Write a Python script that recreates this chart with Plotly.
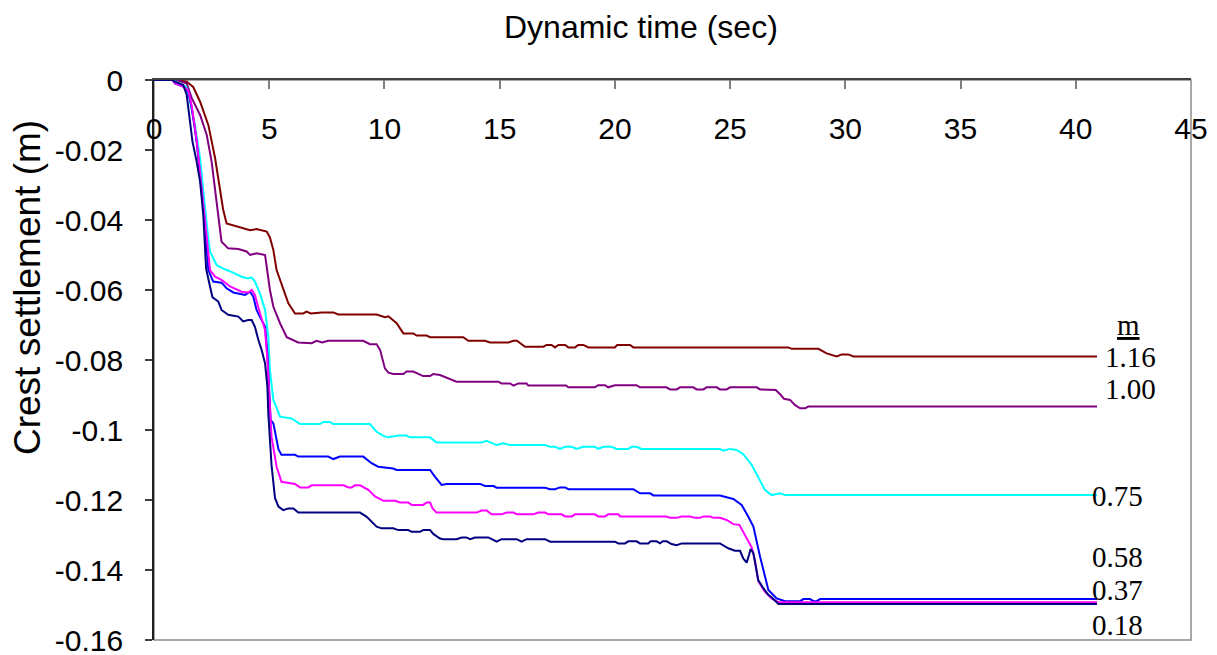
import plotly.graph_objects as go

# ---------------- data ----------------
t_116 = [0, 1.0, 1.42, 1.7, 2.0, 2.36, 2.65, 2.86, 3.0, 3.15, 3.59, 4.17, 4.45, 4.89, 5.03, 5.18, 5.32, 5.61, 5.83, 6.12, 6.48, 6.62, 6.8, 7.28, 7.78, 8.0, 9.66, 10.02, 10.17, 10.53, 10.82, 11.25, 11.4, 11.83, 11.98, 13.42, 13.64, 14.36, 14.58, 15.38, 15.6, 15.75, 16.1, 16.9, 17.04, 17.25, 17.4, 17.55, 17.84, 17.98, 18.27, 18.41, 18.63, 18.85, 20.0, 20.1, 20.66, 20.8, 27.53, 27.67, 28.83, 29.19, 29.48, 29.63, 29.84, 30.13, 30.35, 40.92]
s_116 = [0, 0, -0.0005, -0.002, -0.0062, -0.0129, -0.0223, -0.0319, -0.037, -0.041, -0.0419, -0.0429, -0.0426, -0.0433, -0.045, -0.0486, -0.0543, -0.060, -0.0638, -0.0667, -0.0667, -0.0662, -0.0667, -0.0664, -0.0664, -0.067, -0.067, -0.0678, -0.0675, -0.0695, -0.0724, -0.0724, -0.073, -0.073, -0.0735, -0.0735, -0.0745, -0.0745, -0.075, -0.075, -0.0745, -0.0745, -0.0762, -0.0762, -0.0757, -0.0757, -0.0764, -0.0757, -0.0757, -0.0764, -0.0764, -0.0757, -0.0757, -0.0764, -0.0764, -0.0757, -0.0757, -0.0764, -0.0764, -0.0768, -0.0768, -0.0781, -0.0786, -0.079, -0.0784, -0.0784, -0.079, -0.079]

t_100 = [0, 1.0, 1.42, 1.64, 2.0, 2.29, 2.5, 2.65, 2.79, 2.93, 3.22, 3.66, 4.02, 4.17, 4.45, 4.82, 4.89, 5.03, 5.18, 5.47, 5.76, 6.04, 6.26, 6.84, 7.05, 7.3, 7.56, 9.08, 9.37, 9.66, 9.81, 10.02, 10.17, 10.38, 10.82, 10.96, 11.25, 11.68, 11.98, 12.12, 12.41, 13.13, 14.94, 15.08, 15.45, 15.6, 15.81, 16.17, 16.24, 17.88, 17.98, 19.13, 19.28, 19.57, 19.71, 20.0, 20.94, 21.09, 22.23, 22.4, 22.68, 22.83, 23.4, 23.55, 23.84, 23.98, 24.42, 24.56, 24.85, 25.0, 26.15, 26.3, 26.98, 27.2, 27.34, 27.6, 27.82, 28.04, 28.26, 28.39, 40.92]
s_100 = [0, 0, -0.001, -0.0052, -0.01, -0.0157, -0.0233, -0.031, -0.0386, -0.0462, -0.0481, -0.0483, -0.049, -0.05, -0.0495, -0.05, -0.0533, -0.06, -0.0648, -0.0695, -0.0735, -0.0743, -0.075, -0.0752, -0.0745, -0.075, -0.0745, -0.0745, -0.0755, -0.0755, -0.0771, -0.0824, -0.0836, -0.084, -0.084, -0.0833, -0.0833, -0.0846, -0.0846, -0.084, -0.0843, -0.0862, -0.0862, -0.0867, -0.0867, -0.0873, -0.0867, -0.0867, -0.0873, -0.0873, -0.0878, -0.0878, -0.0872, -0.0872, -0.0878, -0.0872, -0.0872, -0.0878, -0.0878, -0.0884, -0.0884, -0.0878, -0.0878, -0.0884, -0.0884, -0.0878, -0.0878, -0.0884, -0.0884, -0.0878, -0.0878, -0.0884, -0.0886, -0.09, -0.0911, -0.0914, -0.0929, -0.0938, -0.0938, -0.0933, -0.0933]

t_075 = [0, 0.8, 1.1, 1.4, 1.56, 1.78, 2.0, 2.14, 2.29, 2.43, 2.72, 3.15, 3.36, 3.8, 4.09, 4.24, 4.38, 4.6, 4.82, 4.96, 5.03, 5.18, 5.47, 5.97, 6.34, 7.2, 7.35, 7.64, 7.78, 9.37, 9.66, 9.95, 10.17, 10.6, 10.95, 11.11, 11.98, 12.26, 14.21, 14.43, 14.87, 15.16, 15.45, 16.97, 17.19, 17.4, 17.62, 17.84, 18.13, 18.34, 18.63, 19.13, 19.28, 19.5, 19.86, 20.07, 20.58, 20.73, 20.94, 21.16, 24.56, 24.71, 25.0, 25.28, 25.57, 25.94, 26.22, 26.51, 26.8, 27.17, 27.39, 40.92]
s_075 = [0, 0, -0.001, -0.002, -0.0062, -0.0129, -0.0224, -0.0319, -0.0414, -0.049, -0.0529, -0.0543, -0.0548, -0.0562, -0.0567, -0.0564, -0.0576, -0.061, -0.0657, -0.0733, -0.0829, -0.0914, -0.0962, -0.0967, -0.0983, -0.0983, -0.0977, -0.0977, -0.0983, -0.0983, -0.1005, -0.1017, -0.1021, -0.1016, -0.1016, -0.1021, -0.1021, -0.1036, -0.1036, -0.1031, -0.1043, -0.1038, -0.1043, -0.1043, -0.1048, -0.1048, -0.1054, -0.1048, -0.1048, -0.1054, -0.1048, -0.1048, -0.1054, -0.1048, -0.1048, -0.1054, -0.1054, -0.1048, -0.1048, -0.1054, -0.1054, -0.1059, -0.1054, -0.1057, -0.1069, -0.11, -0.1133, -0.1171, -0.1186, -0.1181, -0.1186, -0.1186]

t_058 = [0, 0.8, 0.91, 1.27, 1.49, 1.64, 1.85, 2.0, 2.14, 2.26, 2.36, 2.57, 2.93, 3.15, 3.44, 3.95, 4.17, 4.31, 4.45, 4.67, 4.82, 4.92, 5.0, 5.06, 5.18, 5.4, 5.53, 6.12, 6.26, 7.56, 7.78, 8.07, 9.08, 9.44, 9.73, 10.38, 10.53, 11.98, 12.19, 12.48, 12.69, 14.15, 14.36, 14.73, 14.87, 16.97, 17.19, 17.4, 17.62, 17.84, 17.98, 20.8, 21.09, 21.53, 21.67, 24.56, 25.14, 25.5, 25.79, 26.01, 26.3, 26.66, 27.02, 27.39, 28.04, 28.18, 28.47, 28.62, 28.76, 28.9, 40.92]
s_058 = [0, 0, -0.001, -0.0019, -0.0033, -0.0081, -0.0176, -0.0271, -0.0367, -0.0462, -0.0543, -0.0576, -0.0579, -0.0595, -0.0607, -0.0614, -0.0605, -0.0619, -0.0657, -0.0686, -0.0705, -0.0781, -0.0876, -0.0971, -0.0981, -0.1055, -0.1071, -0.1071, -0.1076, -0.1076, -0.1083, -0.1076, -0.1076, -0.1095, -0.1105, -0.111, -0.1114, -0.1114, -0.1133, -0.1157, -0.1154, -0.1154, -0.116, -0.116, -0.1165, -0.1165, -0.1169, -0.1169, -0.1164, -0.1164, -0.1169, -0.1169, -0.1181, -0.1181, -0.1187, -0.1187, -0.1197, -0.1214, -0.1248, -0.1276, -0.1362, -0.1457, -0.1481, -0.1489, -0.1489, -0.1483, -0.1483, -0.1489, -0.1489, -0.1483, -0.1483]

t_037 = [0, 0.8, 0.91, 1.27, 1.49, 1.64, 1.85, 2.0, 2.14, 2.29, 2.43, 2.65, 2.93, 3.3, 3.8, 4.09, 4.24, 4.38, 4.6, 4.82, 4.92, 5.0, 5.1, 5.32, 5.53, 6.12, 6.34, 6.69, 6.84, 8.22, 8.44, 8.58, 8.72, 8.94, 9.3, 9.59, 9.95, 10.46, 10.68, 11.03, 11.18, 11.68, 11.83, 11.98, 12.09, 12.26, 14.0, 14.21, 14.43, 14.65, 15.08, 15.3, 15.6, 15.74, 16.46, 16.68, 16.97, 17.11, 17.69, 17.84, 18.13, 18.27, 19.13, 19.28, 19.57, 19.71, 20.15, 20.23, 22.23, 22.4, 22.68, 22.9, 23.26, 23.48, 23.7, 23.84, 24.13, 24.28, 24.56, 24.85, 25.14, 25.4, 25.57, 25.79, 25.94, 26.08, 26.22, 26.51, 26.8, 27.1, 40.92]
s_037 = [0, 0, -0.001, -0.0019, -0.003, -0.0075, -0.017, -0.026, -0.035, -0.045, -0.0543, -0.0562, -0.0571, -0.059, -0.0605, -0.0607, -0.06, -0.0614, -0.0667, -0.0714, -0.08, -0.0895, -0.1019, -0.1105, -0.1148, -0.1154, -0.1164, -0.1164, -0.1158, -0.1158, -0.1164, -0.1164, -0.1158, -0.1158, -0.1171, -0.119, -0.1202, -0.1202, -0.1207, -0.1207, -0.1214, -0.1214, -0.1207, -0.1207, -0.1224, -0.1236, -0.1236, -0.123, -0.123, -0.1241, -0.1241, -0.1236, -0.1236, -0.1241, -0.1241, -0.1236, -0.1236, -0.1241, -0.1241, -0.1247, -0.1247, -0.1241, -0.1241, -0.1247, -0.1247, -0.1241, -0.1241, -0.1247, -0.1247, -0.1251, -0.1251, -0.1247, -0.1247, -0.1251, -0.1251, -0.1247, -0.1247, -0.1251, -0.1251, -0.1257, -0.1269, -0.1271, -0.1292, -0.1322, -0.1336, -0.1373, -0.1431, -0.1462, -0.1481, -0.1492, -0.1492]

t_018 = [0, 0.8, 0.91, 1.27, 1.42, 1.53, 1.67, 1.85, 2.0, 2.14, 2.21, 2.26, 2.43, 2.54, 2.79, 2.93, 3.22, 3.66, 3.87, 4.09, 4.24, 4.38, 4.53, 4.67, 4.82, 4.92, 4.96, 5.1, 5.25, 5.4, 5.61, 5.83, 6.05, 6.26, 8.94, 9.23, 9.66, 9.88, 10.38, 10.6, 11.03, 11.18, 11.54, 11.68, 11.98, 12.12, 12.41, 12.55, 13.13, 13.35, 13.55, 13.72, 13.93, 14.51, 14.87, 15.08, 15.74, 15.95, 16.17, 16.97, 17.19, 20.0, 20.15, 20.44, 20.58, 20.94, 21.09, 21.45, 21.55, 21.81, 21.96, 22.07, 22.25, 22.46, 22.68, 22.9, 24.56, 24.92, 25.21, 25.43, 25.57, 25.72, 25.82, 25.89, 26.01, 26.13, 26.22, 26.44, 26.66, 26.8, 27.1, 40.92]
s_018 = [0, 0, -0.0005, -0.0014, -0.0043, -0.01, -0.0176, -0.0233, -0.029, -0.0386, -0.0462, -0.0538, -0.059, -0.0621, -0.0633, -0.0657, -0.0671, -0.0676, -0.069, -0.0686, -0.0686, -0.0705, -0.0743, -0.0771, -0.081, -0.0876, -0.0952, -0.11, -0.1194, -0.1219, -0.1229, -0.1224, -0.1224, -0.1236, -0.1236, -0.1248, -0.1276, -0.1281, -0.1281, -0.1286, -0.1286, -0.1291, -0.1291, -0.1286, -0.1286, -0.1297, -0.131, -0.1312, -0.1312, -0.1307, -0.1307, -0.1312, -0.1307, -0.1307, -0.1319, -0.1312, -0.1312, -0.1319, -0.1312, -0.1312, -0.1319, -0.1319, -0.1324, -0.1324, -0.1318, -0.1318, -0.1324, -0.1324, -0.1318, -0.1318, -0.1324, -0.1318, -0.1318, -0.1326, -0.1329, -0.1324, -0.1324, -0.1338, -0.1345, -0.1345, -0.1367, -0.1379, -0.1357, -0.134, -0.1352, -0.14, -0.1429, -0.1452, -0.1471, -0.1478, -0.1497, -0.1497]

series_names = ["1.16", "1.00", "0.75", "0.58", "0.37", "0.18"]
series_t = [t_116, t_100, t_075, t_058, t_037, t_018]
series_s = [s_116, s_100, s_075, s_058, s_037, s_018]

x_tickvals = [0, 5, 10, 15, 20, 25, 30, 35, 40, 45]
y_tickvals = [0, -0.02, -0.04, -0.06, -0.08, -0.1, -0.12, -0.14, -0.16]
y_ticktext = ["0", "-0.02", "-0.04", "-0.06", "-0.08", "-0.1", "-0.12", "-0.14", "-0.16"]

legend_header = "m"

# ---------------- styling ----------------
colors = ["#800000", "#800080", "#00FFFF", "#0000FF", "#FF00FF", "#000080"]
label_pos = [(41.2, -0.0791), (41.2, -0.0883), (40.6, -0.1189), (40.6, -0.1363), (40.6, -0.1457), (40.6, -0.1557)]
sans = "Liberation Sans, Arial, sans-serif"
serif = "Liberation Serif, Times New Roman, serif"

# page body has an 8px margin: plot area wanted at page x 154..1191, y 80..640
PL, PR, PT, PB = 154, 1191, 80, 640
OFF = 8
W, H = 1217, 655

fig = go.Figure()
for name, t, s, c in zip(series_names, series_t, series_s, colors):
    fig.add_trace(go.Scatter(x=t, y=s, mode="lines", name=name,
                             line=dict(color=c, width=2), showlegend=False))

# plot-area frame (grey)
fig.add_shape(type="rect", xref="paper", yref="paper", x0=0, x1=1, y0=0, y1=1,
              line=dict(color="#8c8c8c", width=1.5), layer="below")

# series labels at right
for name, (lx, ly) in zip(series_names, label_pos):
    fig.add_annotation(x=lx, y=ly, xref="x", yref="y", text=name, showarrow=False,
                       xanchor="left", yanchor="middle",
                       font=dict(family=serif, size=29, color="black"))
fig.add_annotation(x=42.3, y=-0.0700, xref="x", yref="y", text="<u>" + legend_header + "</u>",
                   showarrow=False, xanchor="center", yanchor="middle",
                   font=dict(family=serif, size=29, color="black"))

pw, ph = PR - PL, PB - PT
# axis titles
fig.add_annotation(x=(641 - PL) / pw, y=1 + (PT - 27) / ph, xref="paper", yref="paper",
                   text="Dynamic time (sec)", showarrow=False, xanchor="center", yanchor="middle",
                   font=dict(family=sans, size=32, color="black"))
fig.add_annotation(x=(27 - PL) / pw, y=(PB - 288) / ph, xref="paper", yref="paper",
                   text="Crest settlement (m)", showarrow=False, textangle=-90,
                   xanchor="center", yanchor="middle",
                   font=dict(family=sans, size=37, color="black"))

fig.update_layout(
    width=W, height=H,
    template="none",
    paper_bgcolor="white", plot_bgcolor="white",
    margin=dict(l=PL - OFF, r=W - (PR - OFF), t=PT - OFF, b=H - (PB - OFF), pad=0),
    showlegend=False,
    xaxis=dict(range=[0, 45], side="top", tickvals=x_tickvals,
               ticks="inside", ticklen=9, tickwidth=1.5, tickcolor="#808080",
               showline=True, linecolor="#404040", linewidth=1.5,
               ticklabelposition="inside", ticklabeloverflow="allow",
               ticklabelstandoff=32,
               tickfont=dict(family=sans, size=30, color="black"),
               showgrid=False, zeroline=False, automargin=False),
    yaxis=dict(range=[-0.16, 0], tickvals=y_tickvals, ticktext=y_ticktext,
               ticks="outside", ticklen=7, tickwidth=1.5, tickcolor="#404040",
               showline=True, linecolor="#202020", linewidth=1.5,
               ticklabelstandoff=16,
               tickfont=dict(family=sans, size=30, color="black"),
               showgrid=False, zeroline=False, automargin=False),
)

fig.write_html("out.html")
